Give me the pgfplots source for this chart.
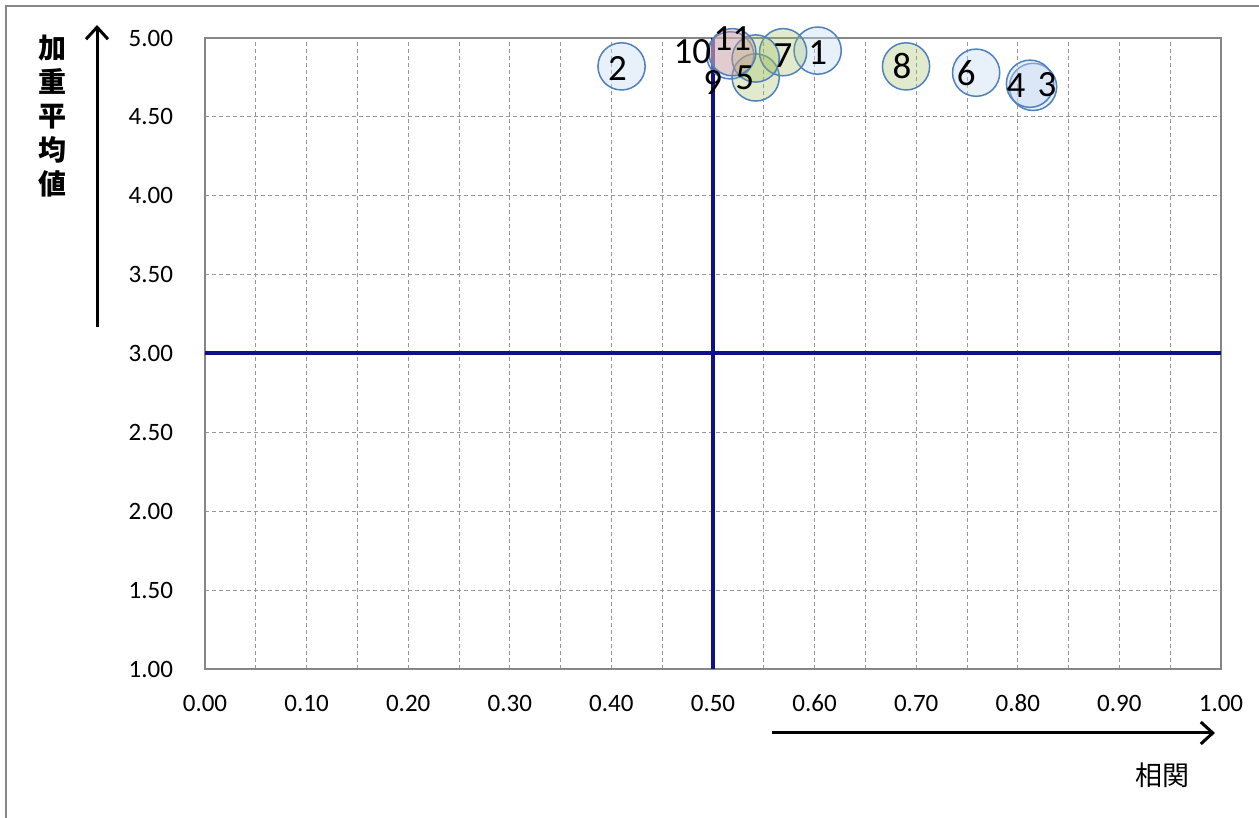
\documentclass[border=0pt]{standalone}
\usepackage{pgfplots}
\pgfplotsset{compat=1.18}
\usepackage{pgfplotstable}
\usetikzlibrary{arrows.meta}
\usepackage{fontspec}
\setmainfont{Carlito}
\newfontfamily\jp{Noto Sans CJK JP}
\definecolor{navyln}{RGB}{16,16,138}
\definecolor{bord}{RGB}{79,129,189}
\definecolor{bfill}{RGB}{198,217,241}
\definecolor{gfill}{RGB}{155,187,89}
\definecolor{pfill}{RGB}{217,150,148}
\definecolor{gridc}{RGB}{150,150,150}
\definecolor{framec}{RGB}{134,134,134}

\pgfplotstableread{
x y
0.603 4.92
0.410 4.82
0.815 4.69
0.812 4.71
0.759 4.78
0.517 4.89
}\blueT
\pgfplotstableread{
x y
0.542 4.75
0.569 4.91
0.690 4.82
0.542 4.87
}\greenT
\pgfplotstableread{
x y
0.519 4.91
}\pinkT
\pgfplotstableread{
x y lab dx dy
0.603 4.92 1 0 -1
0.410 4.82 2 -2 -1
0.815 4.69 3 7 1
0.812 4.71 4 -7 -1
0.542 4.75 5 -5.5 0
0.759 4.78 6 -5 0
0.569 4.91 7 0 -1.5
0.690 4.82 8 -2 0
0.542 4.87 9 -21.5 -12
0.517 4.89 10 -19 2
0.519 4.91 11 0 7
}\labT

\begin{document}
\begin{tikzpicture}
\useasboundingbox (0,0) rectangle (629.5pt,409pt);
\draw[framec, line width=0.6pt] (3pt,0) -- (3pt,406pt) -- (629.5pt,406pt);
\begin{axis}[
  at={(102.5pt,74.5pt)}, anchor=south west,
  width=508pt, height=315.5pt, scale only axis,
  xmin=0, xmax=1, ymin=1, ymax=5,
  xtick distance=0.1, ytick distance=0.5,
  minor x tick num=1,
  major tick length=0pt, minor tick length=0pt,
  grid=both,
  major grid style={gridc, dash pattern=on 2pt off 1.5pt, line width=0.5pt},
  minor grid style={gridc, dash pattern=on 2pt off 1.5pt, line width=0.5pt},
  axis line style={framec, line width=0.8pt},
  /pgf/number format/assume math mode=true,
  /pgf/number format/.cd, fixed, fixed zerofill, precision=2, /pgfplots/.cd,
  tick label style={font=\fontsize{12.5}{14}\selectfont},
  xticklabel style={anchor=north, text height=8pt, text depth=0pt, yshift=-9.5pt},
  yticklabel style={xshift=-12.5pt},
  clip=false,
]
\addplot[navyln, line width=2pt] coordinates {(0,3) (1,3)};
\addplot[navyln, line width=2pt] coordinates {(0.5,1) (0.5,5)};
\addplot[only marks, mark=*, mark size=11.8pt, mark options={draw=bord, line width=0.75pt, fill=bfill, fill opacity=0.4}] table {\blueT};
\addplot[only marks, mark=*, mark size=11.8pt, mark options={draw=bord, line width=0.75pt, fill=gfill, fill opacity=0.3}] table {\greenT};
\addplot[only marks, mark=*, mark size=11.8pt, mark options={draw=bord, line width=0.75pt, fill=pfill, fill opacity=0.4}] table {\pinkT};
\addplot[only marks, mark=none,
  point meta=explicit symbolic,
  visualization depends on={\thisrow{dx}\as\dx},
  visualization depends on={\thisrow{dy}\as\dy},
  nodes near coords,
  nodes near coords style={anchor=center, inner sep=0pt, xshift=\dx pt, yshift=\dy pt, font=\fontsize{18.5}{20}\selectfont, text=black},
] table[meta=lab] {\labT};
\end{axis}
\node[font=\jp\bfseries\fontsize{14}{17}\selectfont, align=center, anchor=north, inner sep=0pt] at (26.5pt,391.5pt) {加\\重\\平\\均\\値};
\draw[line width=1.5pt, -{Straight Barb[length=6pt,width=11pt]}] (48.5pt,245.5pt) -- (48.5pt,396.5pt);
\draw[line width=1.5pt, -{Straight Barb[length=6pt,width=11pt]}] (386pt,42.5pt) -- (607.5pt,42.5pt);
\node[font=\jp\fontsize{13.5}{15}\selectfont] at (581pt,21.5pt) {相関};
\end{tikzpicture}
\end{document}
